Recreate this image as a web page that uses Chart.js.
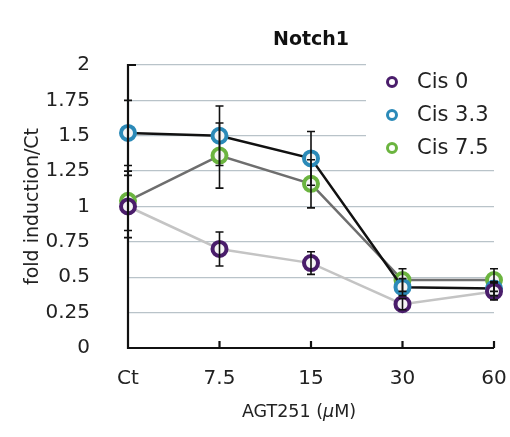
<!DOCTYPE html>
<html>
<head>
<meta charset="utf-8">
<script src="https://cdn.jsdelivr.net/npm/chart.js@4"></script>
<style>
  html, body { margin: 0; padding: 0; background: #fff; }
  #wrap { width: 510px; height: 437px; }
</style>
</head>
<body>
<div id="wrap"><canvas id="notchChart" width="510" height="437"></canvas></div>
<script>
const categories = ["Ct", "7.5", "15", "30", "60"];
const seriesNames = ["Cis 0", "Cis 3.3", "Cis 7.5"];
const cis0 = [1.0, 0.70, 0.60, 0.31, 0.40];
const cis0Err = [0.22, 0.12, 0.08, 0.04, 0.06];
const cis33 = [1.52, 1.50, 1.34, 0.43, 0.42];
const cis33Err = [0.23, 0.21, 0.19, 0.06, 0.05];
const cis75 = [1.04, 1.36, 1.16, 0.48, 0.48];
const cis75Err = [0.21, 0.23, 0.17, 0.08, 0.08];
const yTicks = [0, 0.25, 0.5, 0.75, 1, 1.25, 1.5, 1.75, 2];

const markerColors = ["#4a1d6b", "#2b8ab8", "#6bb43f"];
const lineColors = ["#c4c4c4", "#111111", "#6e6e6e"];
const FONT = "'DejaVu Sans', Arial, sans-serif";

// error bars, inner x ticks, title, legend and axis title
const extras = {
  id: "extras",
  afterDatasetsDraw(chart) {
    const ctx = chart.ctx;
    const x = chart.scales.x, y = chart.scales.y;
    const errs = [cis0Err, cis33Err, cis75Err];
    ctx.save();
    ctx.strokeStyle = "#111";
    ctx.lineWidth = 1.6;
    chart.data.datasets.forEach((ds, i) => {
      ds.data.forEach((v, j) => {
        const px = x.getPixelForValue(j);
        const top = y.getPixelForValue(v + errs[i][j]);
        const bot = y.getPixelForValue(v - errs[i][j]);
        ctx.beginPath();
        ctx.moveTo(px, top); ctx.lineTo(px, bot);
        ctx.moveTo(px - 4, top); ctx.lineTo(px + 4, top);
        ctx.moveTo(px - 4, bot); ctx.lineTo(px + 4, bot);
        ctx.stroke();
      });
    });
    ctx.restore();
  },
  afterDraw(chart) {
    const ctx = chart.ctx;
    const area = chart.chartArea;
    const x = chart.scales.x;
    ctx.save();
    // axes
    ctx.strokeStyle = "#111";
    ctx.lineWidth = 2.2;
    ctx.beginPath();
    ctx.moveTo(area.left, area.top - 1);
    ctx.lineTo(area.left, area.bottom);
    ctx.lineTo(area.right, area.bottom);
    ctx.stroke();
    ctx.beginPath();
    ctx.moveTo(area.left, area.top);
    ctx.lineTo(area.left + 8, area.top);
    categories.forEach((c, j) => {
      if (j === 0) return;
      const px = x.getPixelForValue(j);
      ctx.moveTo(px, area.bottom);
      ctx.lineTo(px, area.bottom - 7);
    });
    ctx.stroke();

    // title
    ctx.fillStyle = "#111";
    ctx.font = "bold 19px " + FONT;
    ctx.textAlign = "center";
    ctx.textBaseline = "middle";
    ctx.fillText("Notch1", (area.left + area.right) / 2, 40);

    // x axis title with italic mu
    ctx.fillStyle = "#222";
    const parts = [["normal", "AGT251 ("], ["italic", "\u03bc"], ["normal", "M)"]];
    let total = 0;
    parts.forEach(p => { ctx.font = p[0] + " 17.5px " + FONT; total += ctx.measureText(p[1]).width; });
    let cx = (area.left + area.right) / 2 - total / 2 - 12;
    ctx.textAlign = "left";
    parts.forEach(p => {
      ctx.font = p[0] + " 17.5px " + FONT;
      ctx.fillText(p[1], cx, 412);
      cx += ctx.measureText(p[1]).width;
    });

    // legend
    ctx.fillStyle = "#fff";
    ctx.fillRect(366, 55, 144, 108);
    seriesNames.forEach((name, i) => {
      const ly = 82 + i * 33;
      ctx.beginPath();
      ctx.arc(392, ly, 4.5, 0, Math.PI * 2);
      ctx.strokeStyle = markerColors[i];
      ctx.lineWidth = 3;
      ctx.stroke();
      ctx.fillStyle = "#222";
      ctx.font = "21px " + FONT;
      ctx.textAlign = "left";
      ctx.fillText(name, 417, ly + 1);
    });
    ctx.restore();
  }
};

function makeSet(label, data, i) {
  return {
    label,
    data,
    borderColor: lineColors[i],
    borderWidth: 2.5,
    pointRadius: 7,
    pointHoverRadius: 7,
    pointBorderWidth: 4,
    pointBorderColor: markerColors[i],
    pointBackgroundColor: "#f4f4f4",
    tension: 0,
    fill: false
  };
}

new Chart(document.getElementById("notchChart"), {
  type: "line",
  data: {
    labels: categories,
    datasets: [
      makeSet(seriesNames[0], cis0, 0),
      makeSet(seriesNames[1], cis33, 1),
      makeSet(seriesNames[2], cis75, 2)
    ]
  },
  options: {
    responsive: false,
    animation: false,
    layout: { padding: { top: 65, right: 16, left: 0, bottom: 0 } },
    plugins: { legend: { display: false }, tooltip: { enabled: false } },
    scales: {
      x: {
        offset: false,
        afterFit(s) { s.height = 89; },
        grid: { display: true, drawOnChartArea: false, drawTicks: true, tickLength: 19, tickColor: "rgba(0,0,0,0)" },
        border: { display: false },
        ticks: { color: "#222", font: { family: FONT, size: 20 }, padding: 0, maxRotation: 0 }
      },
      y: {
        min: 0,
        max: 2,
        afterFit(s) { s.width = 128; },
        afterBuildTicks(s) { s.ticks = yTicks.map(v => ({ value: v })); },
        grid: { color: "#b9c3c9", lineWidth: 1.3, drawTicks: false },
        border: { display: false },
        ticks: {
          color: "#222",
          font: { family: FONT, size: 20 },
          padding: 38,
          callback: v => String(v)
        },
        title: {
          display: true,
          text: "fold induction/Ct",
          color: "#222",
          font: { family: FONT, size: 19 },
          padding: { top: 22, bottom: 0 }
        }
      }
    }
  },
  plugins: [extras]
});
</script>
</body>
</html>
